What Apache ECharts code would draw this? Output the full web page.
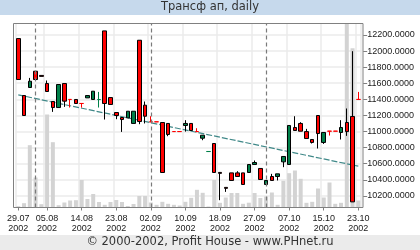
<!DOCTYPE html>
<html><head><meta charset="utf-8">
<script src="https://cdn.jsdelivr.net/npm/echarts@6/dist/echarts.min.js"></script>
<style>html,body{margin:0;padding:0;background:#fff}#c{width:420px;height:250px}</style>
</head><body><div id="c"></div>
<script>
const dates = ['29.07.2002','30.07.2002','31.07.2002','01.08.2002','02.08.2002','05.08.2002','06.08.2002','07.08.2002','08.08.2002','09.08.2002',
 '12.08.2002','14.08.2002','15.08.2002','16.08.2002','19.08.2002','20.08.2002','21.08.2002','23.08.2002','26.08.2002','27.08.2002',
 '28.08.2002','29.08.2002','30.08.2002','02.09.2002','03.09.2002','04.09.2002','05.09.2002','06.09.2002','09.09.2002','10.09.2002',
 '11.09.2002','12.09.2002','13.09.2002','16.09.2002','17.09.2002','18.09.2002','19.09.2002','20.09.2002','23.09.2002','24.09.2002',
 '25.09.2002','27.09.2002','30.09.2002','01.10.2002','02.10.2002','03.10.2002','04.10.2002','07.10.2002','08.10.2002','09.10.2002',
 '10.10.2002','11.10.2002','14.10.2002','15.10.2002','16.10.2002','17.10.2002','18.10.2002','21.10.2002','22.10.2002','23.10.2002'];
const opens  = [12155,11447,11547,11749,11697,11596,11373,11298,11596,11399, 11398,11349,11418,11398,11397,12250,11422,11236,11174,11169,
 11100,12134,11327,11121,11121,11112,11100,11000,11000,11075, 11100,11000,10917,10751,10851,10492,10306,10486,10486,10486,
 10491,10590,10541,10342,10441,10441,10623,10590,11050,11100, 10999,10901,11199,10864,11005,11005,10988,11112,11187,11399];
const closes = [11646,11199,11625,11646,11685,11497,11298,11584,11377,11398, 11348,11348,11447,11501,11398,11348,11336,11199,11149,11252,
 11252,11124,11190,11120,11120,10491,10963,10999,10999,11100, 11013,10999,10954,10752,10491,10480,10294,10392,10441,10342,
 10590,10615,10404,10392,10392,10474,10690,11075,11013,11004, 10913,10864,10975,10988,11004,11004,11050,10999,10126,11398];
const lows   = [11646,11199,11547,11646,11685,11497,11244,11298,11306,11298, 11348,11298,11418,11398,11298,11149,11336,11153,10995,11169,
 11100,11091,11100,11120,11120,10491,10942,10999,10999,10999, 11013,10999,10892,10751,10491,10147,10250,10392,10441,10342,
 10491,10590,10404,10342,10392,10392,10557,10590,11013,11004, 10913,10851,10789,10846,10950,11004,10901,10946,10126,11398];
const highs  = [12155,11447,11666,11749,11697,11634,11373,11584,11596,11399, 11398,11349,11447,11501,11492,12250,11422,11236,11174,11252,
 11252,12134,11373,11190,11121,11112,11100,11000,11000,11141, 11100,11041,10954,10752,10851,10492,10306,10486,10507,10486,
 10590,10640,10541,10392,10474,10474,10690,11075,11190,11116, 11033,10901,11199,10988,11005,11005,11141,11286,11998,11492];
const volumes = [13,43,623,300,33,930,653,23,50,70, 73,275,85,135,55,27,55,75,55,15,
 35,115,115,50,27,57,37,27,20,57, 97,177,147,10,275,47,100,145,145,37,
 48,145,95,110,150,27,267,343,370,287, 47,57,190,100,250,37,47,1840,1593,70];
const priceTicks = [10200,10400,10600,10800,11000,11200,11400,11600,11800,12000,12200];
const labelDates = ['29.07.2002','05.08.2002','14.08.2002','23.08.2002','02.09.2002','10.09.2002','18.09.2002','27.09.2002','07.10.2002','15.10.2002','23.10.2002'];
const monthStarts = ['01.08.2002','02.09.2002','01.10.2002'];
const trendStart = 11455, trendEnd = 10569;

const RED='#ff0000', GREEN='#00804a';
const labelSet = new Set(labelDates);
const candleData = dates.map((d,i)=>{
  const o=opens[i], c=closes[i];
  const item={value:[o,c,lows[i],highs[i]]};
  if (Math.abs(o-c)<=2) {
    const col = c>o ? GREEN : RED;
    item.itemStyle={borderColor:col,borderColor0:col,color:col,color0:col};
  }
  return item;
});
const trendData = dates.map((d,i)=> i===0 ? trendStart : (i===dates.length-1 ? trendEnd : null));

const chart = echarts.init(document.getElementById('c'), null, {renderer:'canvas'});
const isLab = (i,v)=>labelSet.has(v);
chart.setOption({
  animation:false,
  backgroundColor:'#ffffff',
  title:{text:'Трансф ап, daily', left:'center', top:0, padding:[1,0,0,0],
    textStyle:{fontSize:11.5, fontWeight:'normal', color:'#333', fontFamily:'DejaVu Sans'}},
  graphic:[
    {type:'rect', left:0, top:0, z:-1, silent:true, shape:{width:420,height:15}, style:{fill:'#c6d9ec'}},
    {type:'rect', left:0, top:235, z:-1, silent:true, shape:{width:420,height:15}, style:{fill:'#ebebeb'}},
    {type:'text', left:'center', top:236, silent:true, style:{text:'© 2000-2002, Profit House - www.PHnet.ru', fontSize:11.5, fill:'#333', fontFamily:'DejaVu Sans'}},
    {type:'rect', silent:true, z:100, shape:{x:13.5,y:23.5,width:349.5,height:184}, style:{fill:'none', stroke:'#808080', lineWidth:1}}
  ],
  grid:{left:15.4, width:345.8, top:23.5, height:184},
  xAxis:{type:'category', data:dates, boundaryGap:true,
    axisLine:{show:false},
    axisTick:{show:true, alignWithLabel:true, interval:isLab, length:3, lineStyle:{color:'#808080'}},
    axisLabel:{interval:isLab, formatter:v=>v.slice(0,5)+'\n'+v.slice(6), fontSize:9, lineHeight:10, color:'#1a1a1a', margin:6, fontFamily:'Liberation Sans'},
    splitLine:{show:true, interval:isLab, lineStyle:{color:'#ebebeb', width:1.5}}},
  yAxis:[
    {type:'value', position:'right', min:10056, max:12342, offset:2, scale:true,
      axisLine:{show:false},
      axisTick:{show:true, length:4, customValues:priceTicks, lineStyle:{color:'#808080'}},
      axisLabel:{customValues:priceTicks, formatter:v=>v.toFixed(4), fontSize:9, color:'#1a1a1a', margin:4, fontFamily:'Liberation Sans'},
      splitLine:{show:true, lineStyle:{color:'#ebebeb', width:1.5}}},
    {type:'value', min:0, max:1840, show:false}
  ],
  series:[
    {type:'bar', yAxisIndex:1, data:volumes, barWidth:4, itemStyle:{color:'#d3d3d3'}, z:1,
      markLine:{silent:true, symbol:['none','none'], label:{show:false},
        lineStyle:{color:'#7a7a7a', type:[4,3], width:1.2},
        data:monthStarts.map(m=>({xAxis:m}))}},
    {type:'line', data:trendData, connectNulls:true, symbol:'none', z:3,
      lineStyle:{color:'#3f8888', width:1.2, type:[6,2]}},
    {type:'candlestick', data:candleData, barWidth:4, z:4,
      itemStyle:{color:GREEN, color0:RED, borderColor:'#000', borderColor0:'#000', borderWidth:1}}
  ]
});
</script></body></html>
